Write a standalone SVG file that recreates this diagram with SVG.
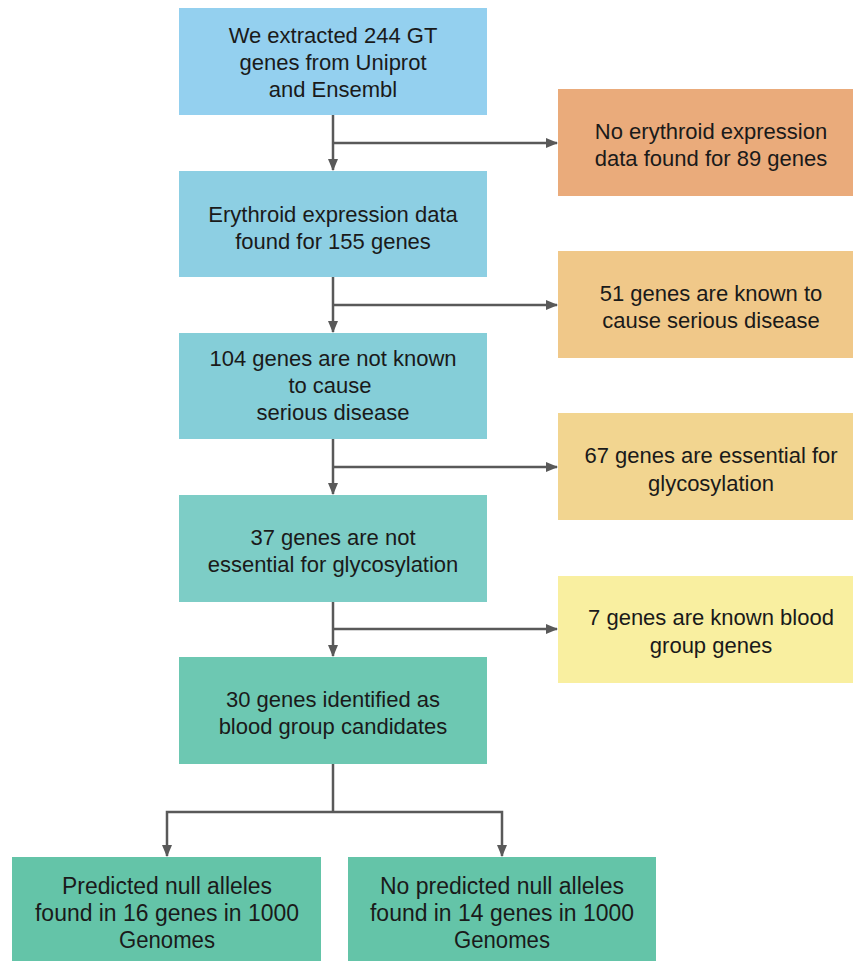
<svg xmlns="http://www.w3.org/2000/svg" width="853" height="961" viewBox="0 0 853 961">
<style>
text{font-family:"Liberation Sans",Arial,Helvetica,sans-serif;font-size:22px;fill:#1a1a1a;text-anchor:middle}
.n{font-size:23px}
.c{stroke:#595959;stroke-width:2.5;fill:none}
</style>
<defs>
<marker id="ah" markerWidth="12" markerHeight="10" refX="11" refY="5" orient="auto" markerUnits="userSpaceOnUse">
<path d="M0,0 L12,5 L0,10 z" fill="#595959"/>
</marker>
</defs>
<rect width="853" height="961" fill="#fff"/>
<g id="n1"><rect x="179" y="8" width="308" height="107" fill="#94D0EF"/>
<text x="333" y="43">We extracted 244 GT</text><text x="333" y="70">genes from Uniprot</text><text x="333" y="97">and Ensembl</text></g>
<g id="n2"><rect x="179" y="171" width="308" height="106" fill="#8DCFE3"/>
<text x="333" y="222">Erythroid expression data</text><text x="333" y="249">found for 155 genes</text></g>
<g id="n3"><rect x="179" y="333" width="308" height="106" fill="#85CED8"/>
<text x="333" y="366">104 genes are not known</text><text x="330" y="393">to cause</text><text x="333" y="420">serious disease</text></g>
<g id="n4"><rect x="179" y="495" width="308" height="107" fill="#7DCDC6"/>
<text x="333" y="545">37 genes are not</text><text x="333" y="572">essential for glycosylation</text></g>
<g id="n5"><rect x="179" y="657" width="308" height="107" fill="#6DC8B2"/>
<text x="333" y="707">30 genes identified as</text><text x="333" y="734">blood group candidates</text></g>
<g id="r1"><rect x="558" y="89" width="295" height="107" fill="#EAAB7B"/>
<text x="711" y="139">No erythroid expression</text><text x="711" y="166">data found for 89 genes</text></g>
<g id="r2"><rect x="558" y="251" width="295" height="107" fill="#F0C889"/>
<text x="711" y="301">51 genes are known to</text><text x="711" y="328">cause serious disease</text></g>
<g id="r3"><rect x="558" y="413" width="295" height="107" fill="#F2D590"/>
<text x="711" y="463">67 genes are essential for</text><text x="711" y="491">glycosylation</text></g>
<g id="r4"><rect x="558" y="576" width="295" height="107" fill="#F9EFA0"/>
<text x="711" y="625">7 genes are known blood</text><text x="711" y="653">group genes</text></g>
<g id="b1"><rect x="12" y="857" width="309" height="104" fill="#64C4A8"/>
<text class="n" x="167" y="894" textLength="210" lengthAdjust="spacingAndGlyphs">Predicted null alleles</text>
<text class="n" x="167" y="921" textLength="264" lengthAdjust="spacingAndGlyphs">found in 16 genes in 1000</text>
<text class="n" x="167" y="948" textLength="96" lengthAdjust="spacingAndGlyphs">Genomes</text></g>
<g id="b2"><rect x="348" y="857" width="308" height="104" fill="#64C4A8"/>
<text class="n" x="502" y="894" textLength="244" lengthAdjust="spacingAndGlyphs">No predicted null alleles</text>
<text class="n" x="502" y="921" textLength="264" lengthAdjust="spacingAndGlyphs">found in 14 genes in 1000</text>
<text class="n" x="502" y="948" textLength="96" lengthAdjust="spacingAndGlyphs">Genomes</text></g>
<g id="connectors">
<path class="c" d="M333,115 V170" marker-end="url(#ah)"/>
<path class="c" d="M333,143 H557" marker-end="url(#ah)"/>
<path class="c" d="M333,277 V332" marker-end="url(#ah)"/>
<path class="c" d="M333,305 H557" marker-end="url(#ah)"/>
<path class="c" d="M333,439 V494" marker-end="url(#ah)"/>
<path class="c" d="M333,467 H557" marker-end="url(#ah)"/>
<path class="c" d="M333,602 V656" marker-end="url(#ah)"/>
<path class="c" d="M333,629 H557" marker-end="url(#ah)"/>
<path class="c" d="M333,764 V812"/>
<path class="c" d="M167,830 V812 H502 V830"/>
<path class="c" d="M167,830 V856" marker-end="url(#ah)"/>
<path class="c" d="M502,830 V856" marker-end="url(#ah)"/>
</g>
</svg>
